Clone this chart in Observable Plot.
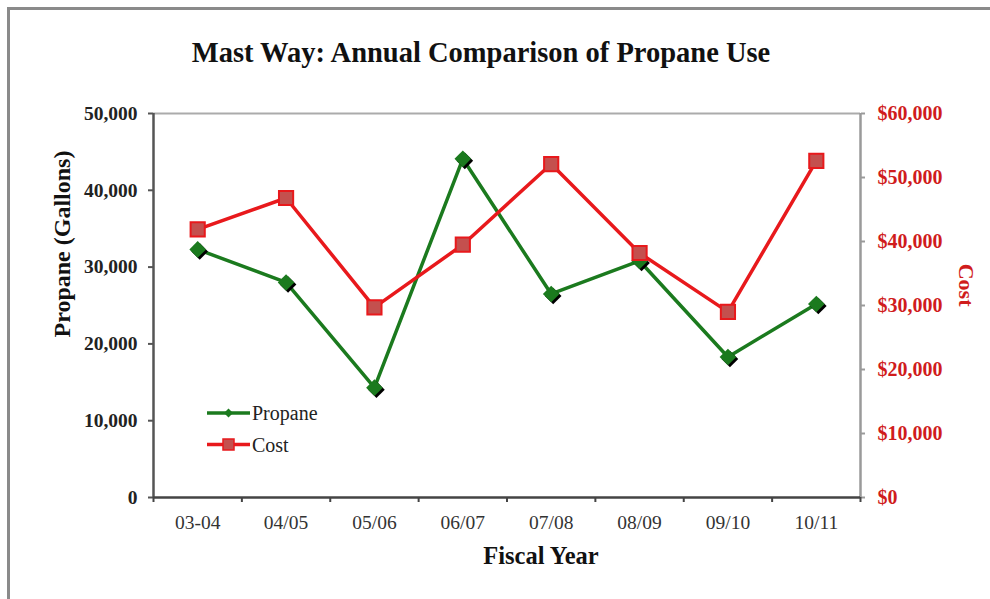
<!DOCTYPE html>
<html>
<head>
<meta charset="utf-8">
<script src="https://cdn.jsdelivr.net/npm/d3@7"></script>
<script src="https://cdn.jsdelivr.net/npm/@observablehq/plot@0.6"></script>
<style>
  body { margin: 0; background: #fff; font-family: "Liberation Serif", "DejaVu Serif", serif; }
  #wrap { position: relative; width: 990px; height: 599px; overflow: hidden; }
  #border { position: absolute; left: 7px; top: 7px; right: -10px; bottom: -10px;
            border-left: 3px solid #8a8a8a; border-top: 3px solid #8a8a8a; pointer-events: none; }
  #legend { position: absolute; left: 0; top: 0; pointer-events: none; }
</style>
</head>
<body>
<div id="wrap"></div>
<script>
const years = ["03-04", "04/05", "05/06", "06/07", "07/08", "08/09", "09/10", "10/11"];
const propane = [32300, 28000, 14300, 44100, 26500, 30800, 18300, 25200];
const cost = [41900, 46800, 29700, 39500, 52100, 38200, 29000, 52600];
const propaneTicks = [0, 10000, 20000, 30000, 40000, 50000];
const costTicks = [0, 10000, 20000, 30000, 40000, 50000, 60000];
const propaneMax = 50000;
const costMax = 60000;

const green = "#1b7a1e";
const red = "#e8191c";
const squareFill = "#c4504e";
const axisRed = "#d01c1c";

const toLeft = v => v * propaneMax / costMax;
const rows = years.map((year, i) => ({ pos: i + 0.5, year, propane: propane[i], cost: toLeft(cost[i]) }));
const fmt = d3.format(",");

const chart = Plot.plot({
  width: 990,
  height: 599,
  marginLeft: 153,
  marginRight: 130,
  marginTop: 113,
  marginBottom: 102,
  style: { fontFamily: "'Liberation Serif', serif", background: "transparent", overflow: "visible" },
  x: { domain: [0, years.length], axis: null },
  y: { domain: [0, propaneMax], axis: null },
  marks: [
    Plot.ruleY([propaneMax], { stroke: "#ababab", strokeWidth: 2 }),
    Plot.ruleX([years.length], { stroke: "#9a9a9a", strokeWidth: 2.5 }),
    Plot.ruleX([0], { stroke: "#555", strokeWidth: 2.5 }),
    Plot.ruleY([0], { stroke: "#444", strokeWidth: 2.5 }),
    // left axis
    Plot.axisY(propaneTicks, { anchor: "left", label: null, tickSize: 5, tickPadding: 11, stroke: "#555", strokeWidth: 2,
      fill: "#222", fontSize: 19.5, fontWeight: "bold", tickFormat: d => fmt(d) }),
    // right axis (cost)
    Plot.axisY(costTicks.map(toLeft), { anchor: "right", label: null, tickSize: 4, tickPadding: 13, stroke: "#9a9a9a", strokeWidth: 2,
      fill: axisRed, fontSize: 20, fontWeight: "bold", tickFormat: d => "$" + fmt(Math.round(d * costMax / propaneMax)) }),
    // x ticks at category boundaries
    Plot.axisX(d3.range(years.length + 1), { anchor: "bottom", label: null, tickSize: 5, stroke: "#444", strokeWidth: 2, tickFormat: () => "" }),
    Plot.axisX(rows.map(d => d.pos), { anchor: "bottom", label: null, tickSize: 0, tickPadding: 18, fill: "#333", fontSize: 19.5,
      tickFormat: (d, i) => years[i] }),
    // titles
    Plot.text(["Mast Way: Annual Comparison of Propane Use"], { frameAnchor: "top", lineAnchor: "middle", dx: -26, dy: -61,
      fontSize: 28.5, fontWeight: "bold", fill: "#111" }),
    Plot.text(["Propane (Gallons)"], { frameAnchor: "left", lineAnchor: "middle", dx: -91, dy: 32, rotate: -90,
      fontSize: 24, fontWeight: "bold", fill: "#111" }),
    Plot.text(["Cost"], { frameAnchor: "right", lineAnchor: "middle", dx: 106, dy: 1, rotate: 90,
      fontSize: 22, fontWeight: "bold", fill: axisRed }),
    Plot.text(["Fiscal Year"], { frameAnchor: "bottom", lineAnchor: "middle", dx: 34, dy: 59,
      fontSize: 24.5, fontWeight: "bold", fill: "#111" }),
    // series
    Plot.line(rows, { x: "pos", y: "propane", stroke: green, strokeWidth: 3.5 }),
    Plot.line(rows, { x: "pos", y: "cost", stroke: red, strokeWidth: 3.5 }),
    Plot.dot(rows, { x: "pos", y: "propane", symbol: "diamond2", r: 7.5, fill: "#000", dx: 2, dy: 2 }),
    Plot.dot(rows, { x: "pos", y: "propane", symbol: "diamond2", r: 7.5, fill: green }),
    Plot.dot(rows, { x: "pos", y: "cost", symbol: "square", r: 8, fill: squareFill, stroke: red, strokeWidth: 2 })
  ]
});

const wrap = document.getElementById("wrap");
wrap.appendChild(chart);
const border = document.createElement("div");
border.id = "border";
wrap.appendChild(border);

// legend
const legendItems = [
  { name: "Propane", color: green, kind: "diamond" },
  { name: "Cost", color: red, kind: "square" }
];
const svg = d3.select(wrap).append("svg").attr("id", "legend").attr("width", 990).attr("height", 599);
legendItems.forEach((it, k) => {
  const y = 413 + k * 31.5;
  const g = svg.append("g").attr("transform", `translate(0,${y})`);
  g.append("line").attr("x1", 207).attr("x2", 250).attr("y1", 0).attr("y2", 0)
    .attr("stroke", it.color).attr("stroke-width", 3.5);
  if (it.kind === "diamond") {
    g.append("path").attr("d", "M228.5,-4.5L233,0L228.5,4.5L224,0Z").attr("fill", green);
  } else {
    g.append("rect").attr("x", 223).attr("y", -5.5).attr("width", 11).attr("height", 11)
      .attr("fill", squareFill).attr("stroke", red).attr("stroke-width", 1.5);
  }
  g.append("text").attr("x", 252).attr("y", 0).attr("dy", "0.35em")
    .attr("font-family", "'Liberation Serif', serif").attr("font-size", 20).attr("fill", "#222")
    .text(it.name);
});
</script>
</body>
</html>
